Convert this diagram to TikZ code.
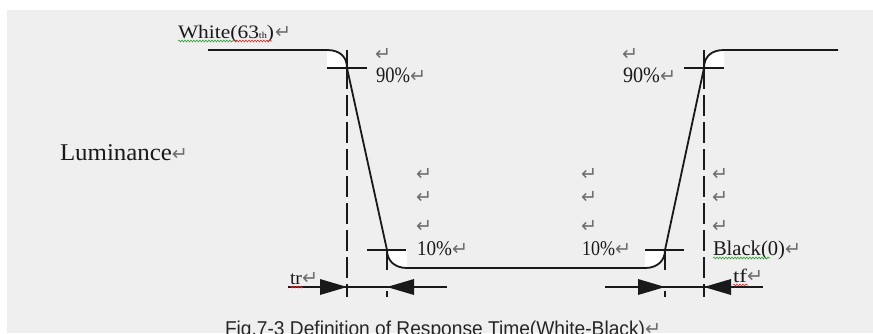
\documentclass[tikz,border=0pt]{standalone}
\usepackage{fontspec}
\usepackage{graphicx}
\setmainfont{Liberation Serif}
\newfontfamily\capfont{Liberation Sans}
\newfontfamily\symfont{DejaVu Sans}
\usetikzlibrary{arrows.meta,decorations.pathmorphing}
\definecolor{bgc}{RGB}{239,239,239}
\definecolor{pmc}{RGB}{110,110,110}
\definecolor{ink}{RGB}{25,25,25}
\definecolor{spellg}{RGB}{40,160,40}
\definecolor{spellr}{RGB}{230,40,40}
\newcommand{\pmark}{{\symfont\fontsize{12}{12}\selectfont\textcolor{pmc}{\scalebox{1.6}{↵}}}}
\newcommand{\fitw}[2]{\resizebox{#1}{\height}{#2}}
\newcommand{\fsz}[1]{\fontsize{#1}{#1}\selectfont}
\tikzset{
  sig/.style={draw=ink, line width=1.8pt},
  tick/.style={draw=ink, line width=1.8pt},
  dsh/.style={draw=ink, line width=2pt, dash pattern=on 21pt off 6pt},
  dim/.style={draw=ink, line width=1.6pt},
  lbl/.style={anchor=base west, inner sep=0pt, outer sep=0pt, text=ink},
  pm/.style={anchor=base west, inner sep=0pt, outer sep=0pt},
  wavy/.style={line width=0.6pt, decorate, decoration={snake, amplitude=0.9pt, segment length=3pt}},
}
\begin{document}
\begin{tikzpicture}[x=1pt,y=-1pt]
\clip (0,0) rectangle (873,333);
\fill[white] (0,0) rectangle (873,333);
\fill[bgc] (7,10) rectangle (873,333);
% key points
\coordinate (w0) at (208,50);
\coordinate (w1) at (327,50);
\coordinate (p90a) at (347,68);
\coordinate (p10a) at (387,250);
\coordinate (b0) at (407,268);
\coordinate (b1) at (645,268);
\coordinate (p10b) at (665,250);
\coordinate (p90b) at (704,68);
\coordinate (w2) at (724,50);
\coordinate (w3) at (838,50);
% white corner patches
\fill[white] (w1) .. controls (340,50) and (347,57) .. (p90a) -- (327,68) -- cycle;
\fill[white] (p10a) .. controls (387,261) and (395,268) .. (b0) -- (407,250) -- cycle;
\fill[white] (b1) .. controls (657,268) and (665,261) .. (p10b) -- (645,250) -- cycle;
\fill[white] (p90b) .. controls (704,57) and (711,50) .. (w2) -- (724,68) -- cycle;
% signal
\draw[sig] (w0) -- (w1) .. controls (340,50) and (347,57) .. (p90a) -- (p10a)
  .. controls (387,261) and (395,268) .. (b0) -- (b1)
  .. controls (657,268) and (665,261) .. (p10b) -- (p90b)
  .. controls (704,57) and (711,50) .. (w2) -- (w3);
% crosshair ticks
\draw[tick] (327,68) -- (367,68);
\draw[tick] (347,50) -- (p90a);
\draw[tick] (367,250) -- (406,250);
\draw[tick] (p10a) -- (387,270);
\draw[tick] (645,250) -- (684,250);
\draw[tick] (p10b) -- (665,270);
\draw[tick] (684,68) -- (724,68);
\draw[tick] (704,50) -- (p90b);
% dashed verticals
\coordinate (d1) at (347,297);
\coordinate (d2) at (704,297);
\draw[dsh] (p90a) -- (d1);
\draw[dsh] (p90b) -- (d2);
\draw[tick] (387,291) -- (387,297);
\draw[tick] (665,291) -- (665,297);
% dimension arrows
\coordinate (a1) at (288,287);
\coordinate (a2) at (447,287);
\coordinate (a3) at (605,287);
\coordinate (a4) at (763,287);
\draw[dim] (a1) -- (a2);
\draw[dim] (a3) -- (a4);
\fill[ink] (347,287) -- (320,279) -- (320,295) -- cycle;
\fill[ink] (387,287) -- (414,279) -- (414,295) -- cycle;
\fill[ink] (665,287) -- (638,279) -- (638,295) -- cycle;
\fill[ink] (704,287) -- (731,279) -- (731,295) -- cycle;
% labels
\node[lbl] (white) at (178,38) {\fitw{96pt}{\fsz{19}White(63{\fsz{9}th})}\hspace{1pt}\pmark};
\node[lbl] (lum) at (60,160) {\fitw{112pt}{\fsz{24}Luminance}\pmark};
\node[pm] (pa) at (375,60) {\pmark};
\node[lbl] (n90a) at (376,82) {\fitw{34pt}{\fsz{22}90\%}\pmark};
\node[pm] (pb) at (622,60) {\pmark};
\node[lbl] (n90b) at (623,82) {\fitw{37pt}{\fsz{22}90\%}\pmark};
\foreach \xx/\nm in {416/l,581/c,712/r}{
  \node[pm] (q1\nm) at (\xx,180) {\pmark};
  \node[pm] (q2\nm) at (\xx,203) {\pmark};
  \node[pm] (q3\nm) at (\xx,232) {\pmark};
}
\node[lbl] (n10a) at (417,255) {\fitw{35pt}{\fsz{21}10\%}\pmark};
\node[lbl] (n10b) at (582,255) {\fitw{33pt}{\fsz{21}10\%}\pmark};
\node[lbl] (blk) at (713,255) {\fitw{72pt}{\fsz{21}Black(0)}\pmark};
\node[lbl] (tr) at (290,284) {\fitw{12pt}{\fsz{19}tr}\pmark};
\node[lbl] (tf) at (733,282) {\fitw{14pt}{\fsz{19}tf}\pmark};
\node[lbl, text=black!85] (cap) at (225,335) {\fitw{420pt}{\capfont\fsz{20}Fig.7-3 Definition of Response Time(White-Black)}\pmark};
% spelling underlines
\draw[wavy, spellg] (178,41) -- (233,41);
\draw[wavy, spellr] (233,41) -- (272,41);
\draw[wavy, spellg] (713,258) -- (770,258);
\draw[wavy, spellr] (290,287) -- (303,287);
\draw[wavy, spellr] (733,285) -- (748,285);
\end{tikzpicture}
\end{document}
